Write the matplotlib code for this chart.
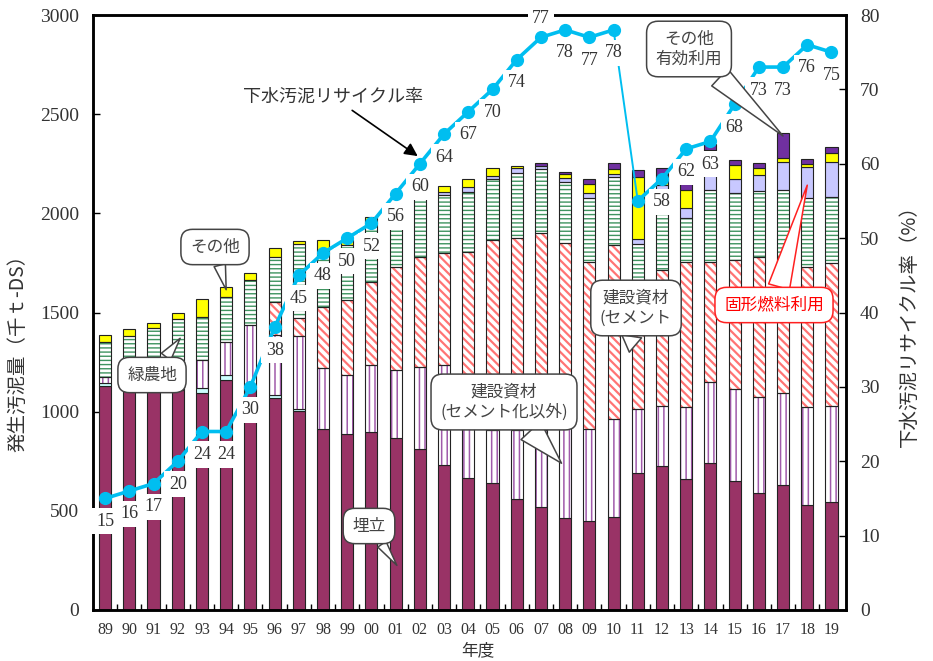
import matplotlib
matplotlib.use("Agg")
import matplotlib.pyplot as plt
import numpy as np

plt.rcParams["font.family"] = ["Liberation Serif", "Noto Sans CJK JP"]
plt.rcParams["hatch.linewidth"] = 1.3

# ---- data (千t-DS, %) ----
years = ["89", "90", "91", "92", "93", "94", "95", "96", "97", "98", "99", "00",
         "01", "02", "03", "04", "05", "06", "07", "08", "09", "10", "11", "12",
         "13", "14", "15", "16", "17", "18", "19"]

landfill = [1129, 1109, 1109, 1109, 1094, 1160, 1109, 1069, 1003, 913, 887, 897,
            867, 812, 731, 666, 640, 560, 519, 464, 449, 469, 691, 726,
            660, 741, 650, 590, 630, 529, 545]
ocean = [15, 10, 10, 10, 25, 25, 10, 15, 10, 0, 0, 0,
         0, 0, 0, 0, 0, 0, 0, 0, 0, 0, 0, 0,
         0, 0, 0, 0, 0, 0, 0]
constr_other = [30, 20, 20, 25, 141, 166, 318, 302, 368, 308, 297, 338,
                343, 413, 504, 343, 267, 348, 388, 469, 464, 494, 323, 302,
                363, 408, 464, 484, 464, 494, 484]
constr_cement = [0, 0, 0, 0, 0, 0, 0, 166, 91, 308, 378, 418,
                 519, 555, 565, 797, 958, 968, 993, 918, 842, 877, 550, 686,
                 731, 605, 650, 706, 686, 706, 721]
agri = [176, 242, 282, 323, 217, 227, 227, 228, 373, 287, 277, 302,
        287, 313, 292, 303, 308, 328, 323, 308, 323, 343, 282, 378,
        222, 363, 338, 333, 338, 348, 333]
solid_fuel = [0, 0, 0, 0, 0, 0, 0, 0, 0, 0, 0, 0,
              0, 0, 15, 25, 15, 25, 15, 20, 25, 15, 25, 50,
              50, 200, 71, 81, 141, 156, 176]
other = [35, 35, 25, 30, 91, 50, 35, 45, 15, 50, 25, 25,
         30, 25, 30, 40, 40, 10, 0, 20, 45, 25, 313, 50,
         91, 0, 71, 35, 20, 15, 45]
other_effective = [0, 0, 0, 0, 0, 0, 0, 0, 0, 0, 0, 0,
                   0, 0, 0, 0, 0, 0, 15, 10, 25, 30, 35, 35,
                   30, 35, 25, 25, 126, 25, 30]

recycle_rate = [15, 16, 17, 20, 24, 24, 30, 38, 45, 48, 50, 52, 56, 60, 64, 67,
                70, 74, 77, 78, 77, 78, 55, 58, 62, 63, 68, 73, 73, 76, 75]

W, H = 933, 661
TXT = "#333333"
JP = ["Noto Sans CJK JP"]

fig = plt.figure(figsize=(W / 100, H / 100), dpi=100)
ax = fig.add_axes([93 / W, (H - 610) / H, 753 / W, 595 / H])
x = np.arange(len(years))
bw = 0.5

# stacked segments: (values, face, hatch, hatch colour, hatch line width)
segments = [
    (landfill, "#993366", None, None, None),
    (ocean, "#ccffff", None, None, None),
    (constr_other, "white", "|||", "#a05aaa", 1.1),
    (constr_cement, "white", "\\\\\\\\", "#ff7474", 1.6),
    (agri, "white", "----", "#3f9460", 1.0),
    (solid_fuel, "#c8c8ff", None, None, None),
    (other, "#ffff00", None, None, None),
    (other_effective, "#7030a0", None, None, None),
]

bottom = np.zeros(len(years))
for vals, face, hatch, hcol, hlw in segments:
    v = np.asarray(vals, dtype=float)
    m = v > 0
    if hatch is None:
        ax.bar(x[m], v[m], bw, bottom=bottom[m], color=face,
               edgecolor="#222222", linewidth=0.8, zorder=2)
    else:
        with plt.rc_context({"hatch.linewidth": hlw}):
            fill = ax.bar(x[m], v[m], bw, bottom=bottom[m], color=face,
                          edgecolor=hcol, hatch=hatch, linewidth=0, zorder=2)
        for p in fill.patches:
            if hasattr(p, "set_hatch_linewidth"):
                p.set_hatch_linewidth(hlw)
        ax.bar(x[m], v[m], bw, bottom=bottom[m], fill=False,
               edgecolor="#222222", linewidth=0.8, zorder=2.1)
    bottom += v

ax.set_xlim(-0.5, 30.6)
ax.set_ylim(0, 3000)
ax.set_yticks(np.arange(0, 3001, 500))
ax.set_xticks(x)
ax.set_xticklabels(years)
ax.set_xticks(x[:-1] + 0.5, minor=True)
ax.tick_params(axis="x", which="major", length=0, pad=9, labelsize=11.5, labelcolor=TXT)
ax.tick_params(axis="x", which="minor", direction="in", length=4, width=1)
ax.tick_params(axis="y", direction="in", length=5, width=1, pad=10,
               labelsize=14, labelcolor=TXT)
for sp in ax.spines.values():
    sp.set_linewidth(1.8)

ax.set_ylabel("発生汚泥量（千ｔ-DS）", family=JP, fontsize=14, color=TXT)
ax.yaxis.set_label_coords(-0.086, 0.44)
ax.set_xlabel("年度", family=JP, fontsize=12, color=TXT)
ax.xaxis.set_label_coords(0.511, -0.054)

# ---- recycling rate on the right axis ----
ax2 = ax.twinx()
ax2.set_ylim(0, 80)
ax2.set_yticks(np.arange(0, 81, 10))
ax2.tick_params(axis="y", direction="in", length=5, width=1, pad=10,
                labelsize=14, labelcolor=TXT)
for sp in ax2.spines.values():
    sp.set_linewidth(1.8)
ax2.set_ylabel("下水汚泥リサイクル率（%）", family=JP, fontsize=14, color=TXT,
               rotation=90)
ax2.yaxis.set_label_coords(1.07, 0.486)

LINE = "#00bef0"
rate = np.asarray(recycle_rate, dtype=float)
k = years.index("11")
ax2.plot(x[:k], rate[:k], color=LINE, lw=2.6, marker="o", ms=8.5, zorder=4)
ax2.plot(x[k:], rate[k:], color=LINE, lw=2.6, marker="o", ms=8.5, zorder=4)
ax2.plot(x[k - 1:k + 1], rate[k - 1:k + 1], color=LINE, lw=1.4, zorder=4)

for i, v in enumerate(recycle_rate):
    if years[i] == "11":
        continue
    dy = 19 if years[i] == "07" else -23
    ax2.annotate(f"{v}", (i, v), xytext=(0, dy), textcoords="offset pixels",
                 ha="center", va="center", fontsize=13, color=TXT,
                 bbox=dict(boxstyle="square,pad=0.25", fc="white", ec="none"),
                 zorder=6, annotation_clip=False)


def fpx(px, py):
    return (px, H - py)


def callout(text, tip, center, fs=12, color="#444444", ec="#444444", tw=0.9):
    ax2.annotate(text, xy=tip, xycoords=ax.transData,
                 xytext=fpx(*center), textcoords="figure pixels",
                 ha="center", va="center", fontsize=fs, color=color,
                 family=JP, linespacing=1.25, zorder=7,
                 bbox=dict(boxstyle="round,pad=0.55,rounding_size=0.7",
                           fc="white", ec=ec, lw=1.1),
                 arrowprops=dict(arrowstyle=f"wedge,tail_width={tw}",
                                 fc="white", ec=ec, lw=1.1,
                                 shrinkA=0, shrinkB=0))


callout("その他", (5, 1615), (215, 247), tw=0.7)
callout("緑農地", (3.1, 1370), (152, 375), tw=0.7)
callout("埋立", (12.05, 225), (369, 526), tw=0.6)
callout("建設資材\n(セメント化以外)", (18.85, 740), (504, 402), tw=1.6)
callout("建設資材\n(セメント", (21.65, 1300), (636, 308), tw=1.2)
callout("その他\n有効利用", (28, 2390), (689, 49), tw=1.4)
callout("固形燃料利用", (29, 2142), (774, 305), color="#ff0000", ec="#ff2020", tw=1.3)

ax2.annotate("下水汚泥リサイクル率", xy=(13.1, 60.6),
             xytext=fpx(333, 97), textcoords="figure pixels",
             ha="center", va="center", fontsize=13, color=TXT, family=JP,
             zorder=7,
             arrowprops=dict(arrowstyle="-|>,head_length=0.6,head_width=0.3",
                             color="black", lw=1.2, shrinkA=2, shrinkB=4))

fig.savefig("out.png", dpi=100)
